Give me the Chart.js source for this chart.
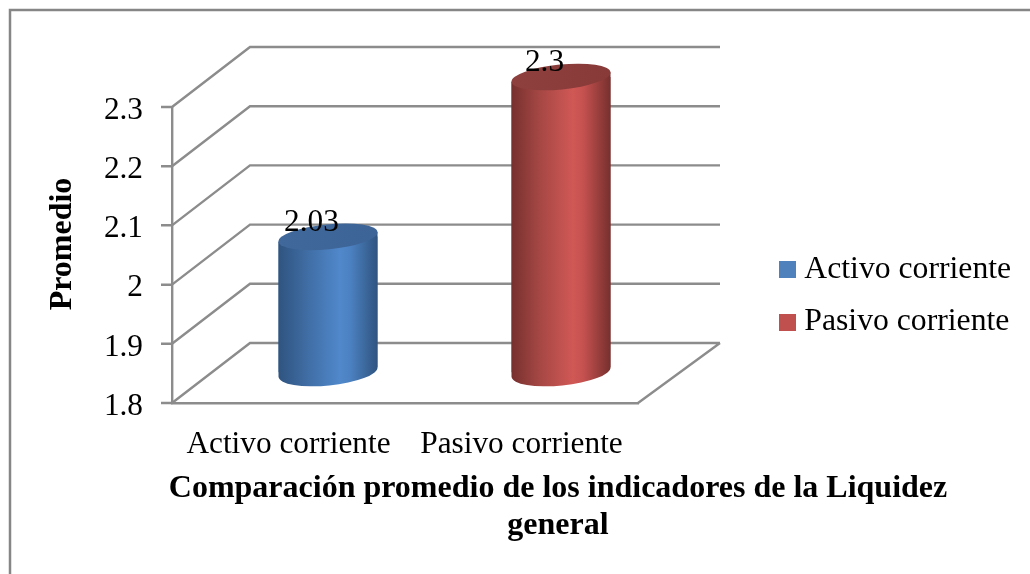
<!DOCTYPE html>
<html>
<head>
<meta charset="utf-8">
<script src="https://cdn.jsdelivr.net/npm/chart.js@4"></script>
<style>html,body{margin:0;padding:0;background:#fff}canvas{display:block}</style>
</head>
<body>
<canvas id="c" width="1030" height="574"></canvas>
<script>
const categories = ["Activo corriente", "Pasivo corriente"];
const seriesNames = ["Activo corriente", "Pasivo corriente"];
const activoValues = [2.03, null];
const pasivoValues = [null, 2.3];
const valueLabels = ["2.03", "2.3"];
const axisMin = 1.8, axisMax = 2.3, axisStep = 0.1;
const yTitle = "Promedio";
const xTitle = ["Comparación promedio de los indicadores de la Liquidez", "general"];

const GREY = "#8c8c8c";
const FONT = "Liberation Serif";
const depth = {x: 78, y: -60};
const barShift = {x: 39.5, y: -30};
const R = 49.5, RY = 13.5, CAP_RY = 12.5, ROT = -5.6 * Math.PI / 180;
const palette = [
  {stops: ["#2f5480", "#3f6ca3", "#5088cb", "#4c82c2", "#2f5480"], cap: ["#41689a", "#3c6496"], key: "#4f81bd"},
  {stops: ["#76302e", "#a54744", "#d05855", "#c65250", "#76302e"], cap: ["#8e403e", "#873a38"], key: "#c0504d"}
];
const stopPos = [0, 0.28, 0.62, 0.72, 1];

function bodyGradient(ctx, cx, i) {
  const g = ctx.createLinearGradient(cx - R, 0, cx + R, 0);
  palette[i].stops.forEach((c, k) => g.addColorStop(stopPos[k], c));
  return g;
}
function keySwatch(color) {
  const c = document.createElement("canvas");
  c.width = 17; c.height = 17;
  const x = c.getContext("2d");
  x.fillStyle = color; x.fillRect(0, 0, 17, 17);
  return c;
}
const swatches = palette.map(p => keySwatch(p.key));

const wallsPlugin = {
  id: "walls",
  beforeDraw(chart) {
    const ctx = chart.ctx;
    ctx.save();
    ctx.strokeStyle = "#868686"; ctx.lineWidth = 2.5;
    ctx.beginPath(); ctx.moveTo(1030, 10); ctx.lineTo(10, 10); ctx.lineTo(10, 574); ctx.stroke();
    ctx.restore();
  },
  beforeDatasetsDraw(chart) {
    const {ctx, chartArea: a, scales: {y}} = chart;
    ctx.save();
    ctx.strokeStyle = GREY; ctx.lineWidth = 2.4;
    ctx.beginPath();
    y.ticks.forEach(t => {
      const py = y.getPixelForValue(t.value);
      ctx.moveTo(a.left - 11, py);
      ctx.lineTo(a.left, py);
      ctx.lineTo(a.left + depth.x, py + depth.y);
      ctx.lineTo(a.right + 82, py + depth.y);
    });
    ctx.moveTo(a.right, a.bottom);
    ctx.lineTo(a.right + 82, a.bottom + depth.y);
    ctx.stroke();
    ctx.restore();
  }
};

const cylinderPlugin = {
  id: "cylinder",
  beforeDatasetDraw(chart, args) {
    const {ctx} = chart;
    const i = args.index;
    const p = chart.getDatasetMeta(i).data[i].getProps(["x", "y", "base"], true);
    const lift = R * Math.sin(-ROT);
    const L = p.x - R, Rt = p.x + R;
    ctx.save();
    ctx.translate(barShift.x, barShift.y);
    ctx.fillStyle = bodyGradient(ctx, p.x, i);
    ctx.beginPath();
    ctx.ellipse(p.x, p.base, R / Math.cos(ROT), RY, ROT, 0, Math.PI);
    ctx.lineTo(L, p.y + lift);
    ctx.lineTo(Rt, p.y - lift);
    ctx.closePath();
    ctx.fill();
    ctx.beginPath();
    ctx.moveTo(L, p.y + lift);
    ctx.lineTo(Rt, p.y - lift);
    ctx.lineTo(Rt, p.base - lift);
    ctx.lineTo(L, p.base + lift);
    ctx.closePath();
    ctx.clip();
  },
  afterDatasetDraw(chart, args) {
    const {ctx} = chart;
    const i = args.index;
    ctx.restore();
    const p = chart.getDatasetMeta(i).data[i].getProps(["x", "y"], true);
    ctx.save();
    ctx.translate(barShift.x, barShift.y);
    const g = ctx.createLinearGradient(p.x - R, 0, p.x + R, 0);
    g.addColorStop(0, palette[i].cap[0]); g.addColorStop(1, palette[i].cap[1]);
    ctx.fillStyle = g;
    ctx.beginPath();
    ctx.ellipse(p.x, p.y, R / Math.cos(ROT), CAP_RY, ROT, 0, Math.PI * 2);
    ctx.fill();
    ctx.restore();
  },
  afterDatasetsDraw(chart) {
    const {ctx} = chart;
    ctx.save();
    ctx.fillStyle = "#000";
    ctx.font = "31.3px '" + FONT + "'";
    ctx.textAlign = "center"; ctx.textBaseline = "middle";
    chart.data.datasets.forEach((d, i) => {
      const p = chart.getDatasetMeta(i).data[i].getProps(["x", "y"], true);
      ctx.fillText(valueLabels[i], p.x + 23, p.y - 44);
    });
    ctx.restore();
  }
};

const placePlugin = {
  id: "place",
  afterLayout(chart) {
    const lg = chart.legend;
    const w = lg.width, h = lg.height;
    lg.left = 786.5 - lg.options.labels.padding; lg.right = lg.left + w;
    lg.top = 232.5; lg.bottom = lg.top + h;
    const sx = chart.scales.x, sy = chart.scales.y;
    if (!sx._wrapped) {
      sx._wrapped = true;
      const ox = sx.drawTitle;
      sx.drawTitle = function () {
        const l = this.left, r = this.right;
        this.left = 108; this.right = 1008;
        ox.call(this);
        this.left = l; this.right = r;
      };
      const oy = sy.drawTitle;
      sy.drawTitle = function () {
        this.ctx.save(); this.ctx.translate(0, -11);
        oy.call(this);
        this.ctx.restore();
      };
      const ol = sy.drawLabels;
      sy.drawLabels = function (area) {
        this.ctx.save(); this.ctx.translate(0, 3.5);
        ol.call(this, area);
        this.ctx.restore();
      };
    }
  }
};

new Chart(document.getElementById("c"), {
  type: "bar",
  data: {
    labels: categories,
    datasets: [
      {label: seriesNames[0], data: activoValues},
      {label: seriesNames[1], data: pasivoValues}
    ].map((d, i) => Object.assign(d, {
      base: axisMin,
      barThickness: 2 * R,
      backgroundColor: ctx => {
        const cx = ctx.chart.scales.x ? ctx.chart.scales.x.getPixelForValue(i) : 0;
        return bodyGradient(ctx.chart.ctx, cx, i);
      },
      borderWidth: 0
    }))
  },
  options: {
    responsive: false,
    animation: false,
    layout: {padding: {left: 0, top: 107, right: 392, bottom: 0}},
    scales: {
      x: {
        stacked: true,
        afterFit: s => { s.height = 171; },
        grid: {drawOnChartArea: false, drawTicks: false},
        border: {color: GREY, width: 2.4},
        ticks: {color: "#000", padding: 23, maxRotation: 0, font: {family: FONT, size: 31.3}},
        title: {display: true, text: xTitle, color: "#000", padding: {top: 0, bottom: 30},
                font: {family: FONT, size: 32, weight: "bold", lineHeight: 1.15}}
      },
      y: {
        min: axisMin, max: axisMax,
        afterFit: s => { s.width = 172; },
        grid: {drawOnChartArea: false, drawTicks: true, color: GREY, tickColor: GREY, lineWidth: 2, tickWidth: 2, tickLength: 11},
        border: {color: GREY, width: 2.4},
        ticks: {stepSize: axisStep, color: "#000", padding: 18,
                callback: v => String(+v.toFixed(1)),
                font: {family: FONT, size: 31.3}},
        title: {display: true, text: yTitle, color: "#000", padding: {top: 44, bottom: 0},
                font: {family: FONT, size: 32, weight: "bold", lineHeight: 1.15}}
      }
    },
    plugins: {
      tooltip: {enabled: false},
      legend: {
        position: "chartArea",
        align: "start",
        labels: {
          color: "#000",
          font: {family: FONT, size: 31.7},
          padding: 21,
          usePointStyle: true,
          pointStyleWidth: 2,
          boxHeight: 17,
          generateLabels: chart => chart.data.datasets.map((d, i) => ({
            text: d.label, datasetIndex: i, pointStyle: swatches[i],
            fillStyle: palette[i].key, strokeStyle: palette[i].key, lineWidth: 0, hidden: false
          }))
        }
      }
    }
  },
  plugins: [wallsPlugin, cylinderPlugin, placePlugin]
});
</script>
</body>
</html>
